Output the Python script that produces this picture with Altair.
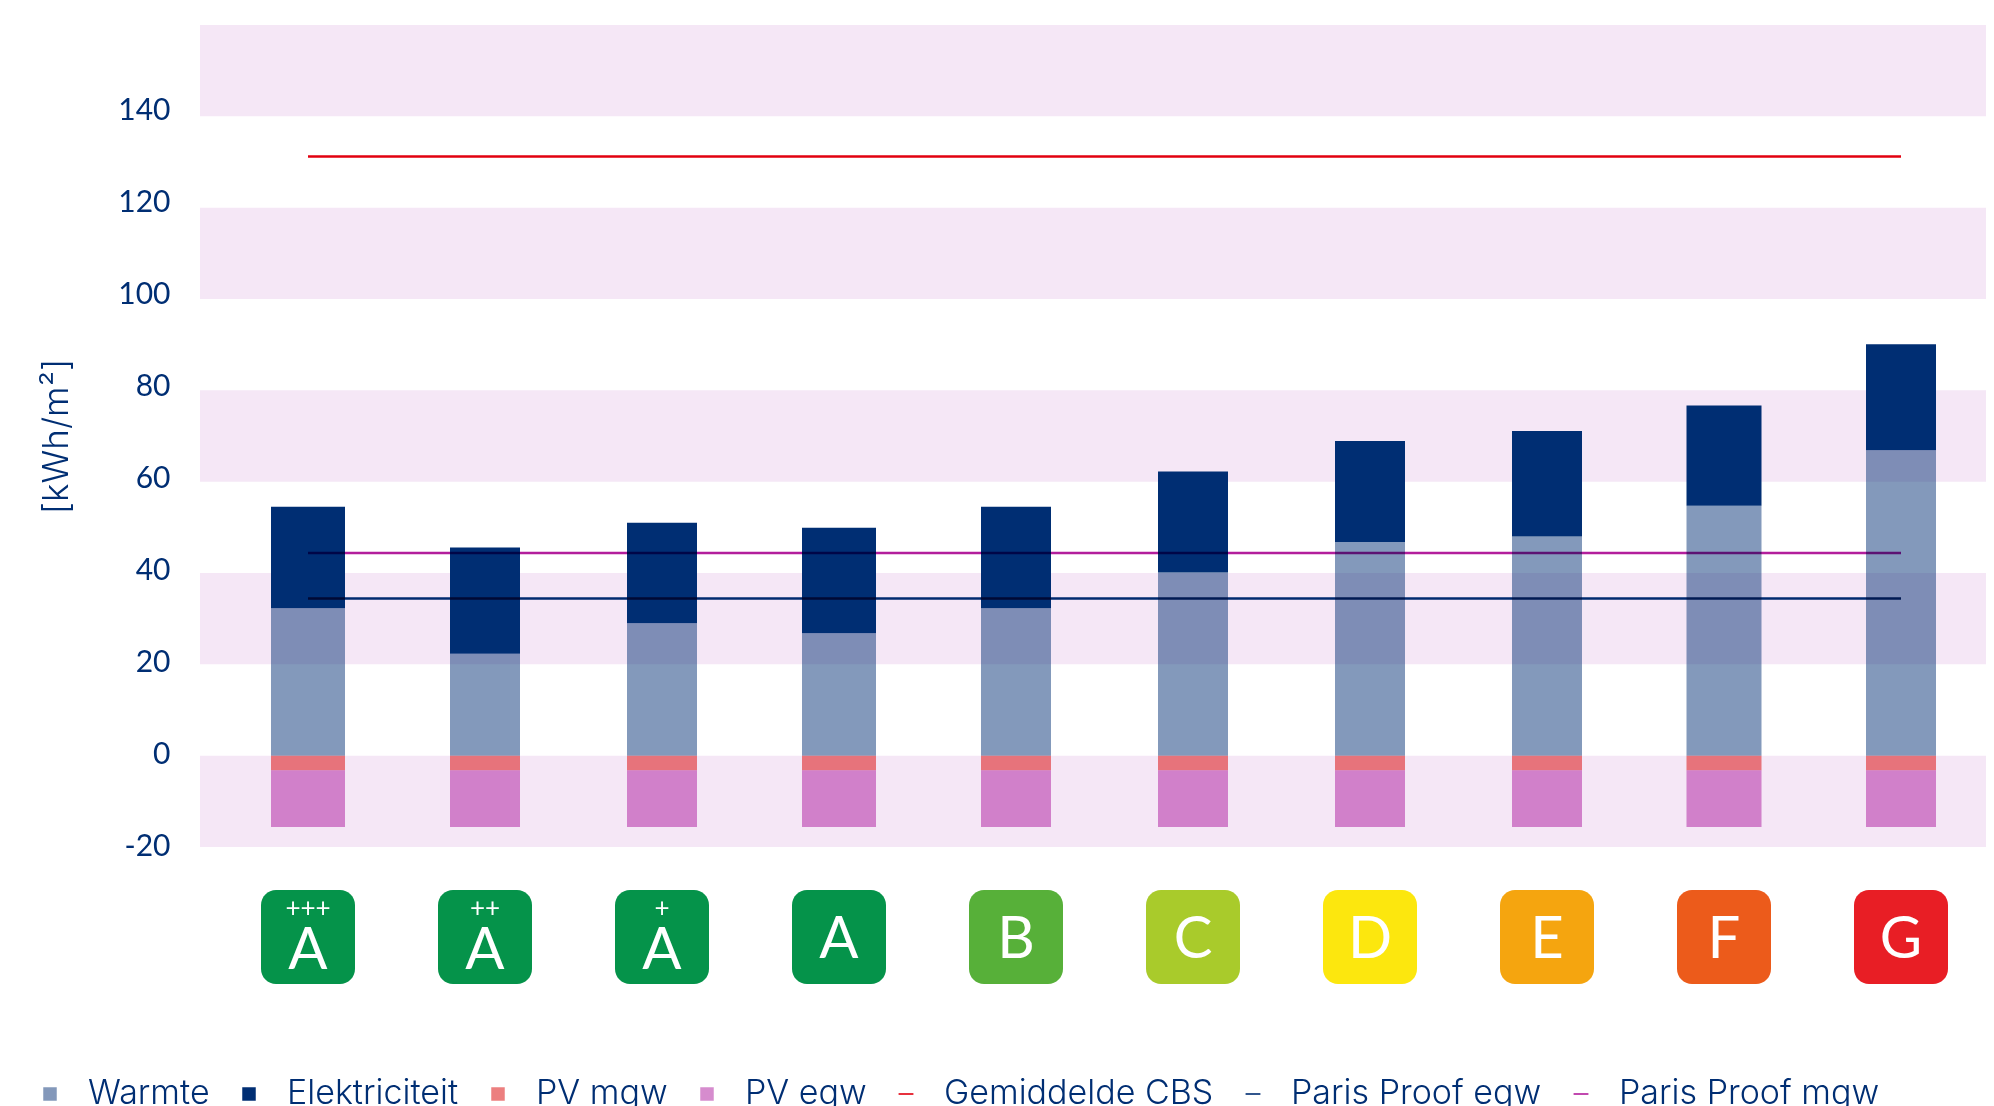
import altair as alt
import pandas as pd

categories = ["A+++", "A++", "A+", "A", "B", "C", "D", "E", "F", "G"]
letters = ["A", "A", "A", "A", "B", "C", "D", "E", "F", "G"]
plus_marks = ["+++", "++", "+", "", "", "", "", "", "", ""]
warmte = [32.3, 22.3, 29.0, 26.8, 32.3, 40.1, 46.8, 48.0, 54.7, 66.9]
totaal = [54.5, 45.6, 51.0, 49.9, 54.5, 62.2, 68.9, 71.1, 76.7, 90.1]
pv_mgw = [-3.2] * 10
pv_egw = [-15.6] * 10
gemiddelde_cbs = [131.2] * 10
paris_egw = [34.4] * 10
paris_mgw = [44.4] * 10
bands = [(-20, 0), (20, 40), (60, 80), (100, 120), (140, 160)]
y_ticks = [-20, 0, 20, 40, 60, 80, 100, 120, 140]
legend_names = ["Warmte", "Elektriciteit", "PV mgw", "PV egw", "Gemiddelde CBS", "Paris Proof egw", "Paris Proof mgw"]

NAVY = "#002e73"
TILE_COLORS = ["#05934a", "#05934a", "#05934a", "#05934a", "#57b039", "#a9cb2b", "#fce70e", "#f5a50f", "#ec5b1b", "#e81e25"]
LEGEND_COLORS = ["#8398ba", NAVY, "#ec7f7f", "#d68cce", "#e2000f", NAVY, "#b31e9c"]
BAR_WIDTHS = [74, 70, 70, 74, 70, 70, 70, 70, 75, 70]
FONT = "Lato"
FONT2 = "Inter"
SQUARE = "M-0.5,-0.5H0.5V0.5H-0.5Z"
DASH = "M-0.55,-0.06H0.55V0.06H-0.55Z"

x_scale = alt.Scale(domain=categories, range=[19.5, 1789.5], paddingInner=0, paddingOuter=0)
y_scale = alt.Scale(domain=[-20, 160], nice=False, zero=False)
X = alt.X("cat:N", scale=x_scale, axis=None, sort=categories)


def y_enc(field):
    return alt.Y(f"{field}:Q", scale=y_scale, axis=None)


def bar_layer(low, high, color, opacity):
    df = pd.DataFrame({"cat": categories, "low": low, "high": high})
    return alt.Chart(df).mark_bar(color=color, opacity=opacity).encode(
        x=X,
        y=y_enc("low"),
        y2=alt.Y2("high"),
        size=alt.Size("cat:N", scale=alt.Scale(type="ordinal", domain=categories, range=BAR_WIDTHS), legend=None),
    )


def line_layer(values, color):
    df = pd.DataFrame({"cat": categories, "v": values})
    return alt.Chart(df).mark_line(color=color, strokeWidth=2.5, blend="multiply").encode(x=X, y=y_enc("v"))


band_df = pd.DataFrame(bands, columns=["low", "high"])
band_layer = alt.Chart(band_df).mark_rect(color="#f5e7f6").encode(
    x=alt.value(0), x2=alt.value(1786), y=y_enc("low"), y2=alt.Y2("high")
)

zeros = [0] * 10
layers = [
    band_layer,
    bar_layer(zeros, warmte, NAVY, 0.486),
    bar_layer(warmte, totaal, NAVY, 1),
    bar_layer(zeros, pv_mgw, "#d90000", 0.5),
    bar_layer(pv_mgw, pv_egw, "#ad199d", 0.5),
    line_layer(gemiddelde_cbs, "#e2000f"),
    line_layer(paris_egw, NAVY),
    line_layer(paris_mgw, "#b31e9c"),
]

tile_df = pd.DataFrame({"cat": categories, "letter": letters, "plus": plus_marks})
tiles = alt.Chart(tile_df).mark_bar(cornerRadius=15).encode(
    x=X,
    y=alt.value(865),
    y2=alt.value(959),
    size=alt.value(94),
    fill=alt.Fill("cat:N", scale=alt.Scale(domain=categories, range=TILE_COLORS), legend=None),
)
tile_letters = alt.Chart(tile_df[tile_df["plus"] == ""]).mark_text(
    font=FONT, fontSize=58, color="white", baseline="middle"
).encode(x=X, y=alt.value(916), text="letter:N")
tile_letters_up = alt.Chart(tile_df[tile_df["plus"] != ""]).mark_text(
    font=FONT, fontSize=58, color="white", baseline="middle"
).encode(x=X, y=alt.value(927), text="letter:N")
tile_plus = alt.Chart(tile_df[tile_df["plus"] != ""]).mark_text(
    font=FONT, fontSize=26, color="white", baseline="middle"
).encode(x=X, y=alt.value(884), text="plus:N")

helper_df = pd.DataFrame({"name": legend_names, "v": [-100] * len(legend_names)})
helper = alt.Chart(helper_df).mark_point(filled=True, clip=True, opacity=1, size=729).encode(
    y=alt.Y(
        "v:Q",
        scale=alt.Scale(domain=[-20.37, 158.26], nice=False, zero=False),
        axis=alt.Axis(
            orient="left",
            values=y_ticks,
            labelExpr="'' + datum.value",
            labelOffset=1,
            domain=False,
            ticks=False,
            grid=False,
            labelFont=FONT,
            labelFontSize=30,
            labelColor=NAVY,
            labelPadding=30,
            title="[kWh/m²]",
            titleFont=FONT2,
            titleFontSize=35,
            titleFontWeight=300,
            titleColor=NAVY,
            titleX=-126,
            titleY=411,
            titleAngle=-90,
            titleAlign="center",
        ),
    ),
    color=alt.Color(
        "name:N",
        scale=alt.Scale(domain=legend_names, range=LEGEND_COLORS),
        legend=alt.Legend(
            title=None,
            orient="none",
            legendX=-167,
            legendY=1052,
            direction="horizontal",
            columns=7,
            padding=0,
            symbolSize=729,
            symbolOpacity=1,
            symbolStrokeWidth=0,
            labelFont=FONT2,
            labelFontSize=34,
            labelFontWeight=300,
            labelColor=NAVY,
            labelOffset=21,
            columnPadding=22,
            labelLimit=400,
        ),
    ),
    shape=alt.Shape(
        "name:N",
        scale=alt.Scale(domain=legend_names, range=[SQUARE] * 4 + [DASH] * 3),
    ),
)

chart = (
    alt.layer(*layers, tiles, tile_letters, tile_letters_up, tile_plus, helper)
    .resolve_scale(y="independent")
    .properties(
        width=1786,
        height=822,
        padding={"left": 192, "top": 17, "right": 0, "bottom": 259},
        autosize=alt.AutoSizeParams(type="none"),
    )
    .configure_view(stroke=None)
)

chart.save("out.html", embed_options={"renderer": "svg", "actions": False})
